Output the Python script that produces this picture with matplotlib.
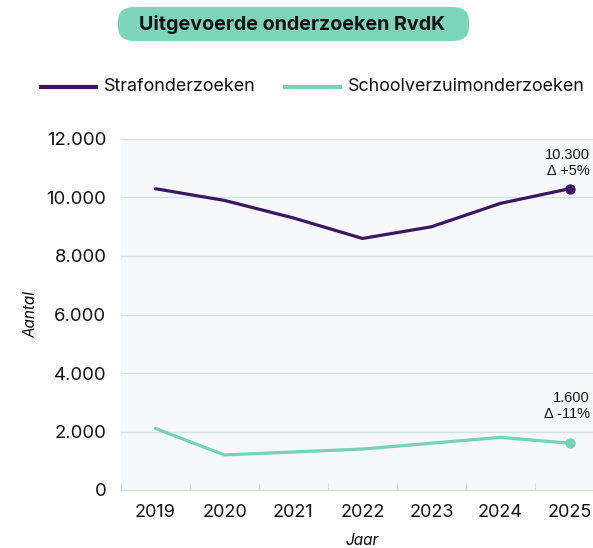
import matplotlib
matplotlib.use("Agg")
import matplotlib.pyplot as plt
from matplotlib.patches import FancyBboxPatch
from matplotlib.lines import Line2D
from matplotlib.ticker import FuncFormatter

years = ["2019", "2020", "2021", "2022", "2023", "2024", "2025"]
straf = [10300, 9900, 9300, 8600, 9000, 9800, 10300]
school = [2100, 1200, 1300, 1400, 1600, 1800, 1600]
series_names = ["Strafonderzoeken", "Schoolverzuimonderzoeken"]
straf_note = ["10.300", "Δ +5%"]
school_note = ["1.600", "Δ -11%"]

purple = "#3c1661"
teal = "#74d3b5"
grid_c = "#d5dfee"
bg = "#f7f8fa"
font = "Inter"

fig = plt.figure(figsize=(5.93, 5.48), dpi=100)
ax = fig.add_axes([121 / 593, 1 - 490 / 548, 483 / 593, 351 / 548])
ax.set_facecolor(bg)

x = [i + 0.5 for i in range(len(years))]
ax.plot(x, straf, color=purple, lw=2.3, solid_capstyle="round", zorder=3)
ax.plot(x, school, color=teal, lw=2.3, solid_capstyle="round", zorder=3)
ax.scatter([x[-1]], [straf[-1]], s=42, color=purple, zorder=4)
ax.scatter([x[-1]], [school[-1]], s=42, color=teal, zorder=4)

ax.set_xlim(0, len(years))
ax.set_ylim(0, 12000)
ax.set_yticks(range(0, 12001, 2000))
ax.yaxis.set_major_formatter(FuncFormatter(lambda v, p: f"{int(v):,}".replace(",", ".")))
ax.set_xticks(range(len(years) + 1))
ax.set_xticks(x, minor=True)
ax.set_xticklabels([])
ax.set_xticklabels(years, minor=True)
ax.grid(axis="y", color=grid_c, lw=1)
ax.set_axisbelow(True)
for s in ["top", "right", "left"]:
    ax.spines[s].set_visible(False)
ax.spines["bottom"].set_color(grid_c)
ax.tick_params(axis="x", which="major", direction="in", length=5, color=grid_c)
ax.tick_params(axis="x", which="minor", length=0, pad=10, labelsize=13)
ax.tick_params(axis="y", length=0, pad=10.5, labelsize=13.3)
for lab in ax.get_xticklabels(minor=True) + ax.get_yticklabels():
    lab.set_fontfamily(font)
    lab.set_color("#111111")

ax.set_xlabel("Jaar", fontstyle="italic", fontfamily=font, fontsize=11)
ax.set_ylabel("Aantal", fontstyle="italic", fontfamily=font, fontsize=11)
ax.xaxis.set_label_coords(0.5, (490 - 533) / 351)
ax.yaxis.set_label_coords((38 - 121) / 483, 0.5)

# end-point annotations
note_x = 590 / 593
ax.annotate("\n".join(straf_note), xy=(x[-1], straf[-1]), xycoords="data",
            xytext=(note_x, 1 - 163 / 548), textcoords="figure fraction",
            ha="right", va="center", fontsize=10.5, fontfamily="Liberation Sans",
            linespacing=1.25, color="#111111")
ax.annotate("\n".join(school_note), xy=(x[-1], school[-1]), xycoords="data",
            xytext=(note_x, 1 - 406 / 548), textcoords="figure fraction",
            ha="right", va="center", fontsize=10.5, fontfamily="Liberation Sans",
            linespacing=1.25, color="#111111")

# title pill
pill = FancyBboxPatch((118 / 593, 1 - 41 / 548), 351 / 593, 34 / 548,
                      boxstyle="round,pad=0,rounding_size=0.028",
                      transform=fig.transFigure, facecolor="#7cd4b9",
                      edgecolor="none", mutation_aspect=548 / 593)
fig.patches.append(pill)
fig.text(292 / 593, 1 - 24 / 548, "Uitgevoerde onderzoeken RvdK", ha="center",
         va="center", fontsize=14.2, fontweight="bold", fontfamily=font, color="#111111")

# legend
legend_y = 1 - 87 / 548
for (x0, x1, tx), name, col in zip([(39, 98, 104), (283, 342, 348)], series_names, [purple, teal]):
    fig.add_artist(Line2D([x0 / 593, x1 / 593], [legend_y, legend_y], color=col, lw=3,
                          solid_capstyle="butt", transform=fig.transFigure))
    fig.text(tx / 593, legend_y, name, ha="left", va="center", fontsize=12.9,
             fontfamily=font, color="#111111")

fig.savefig("out.png", dpi=100, facecolor="white")
